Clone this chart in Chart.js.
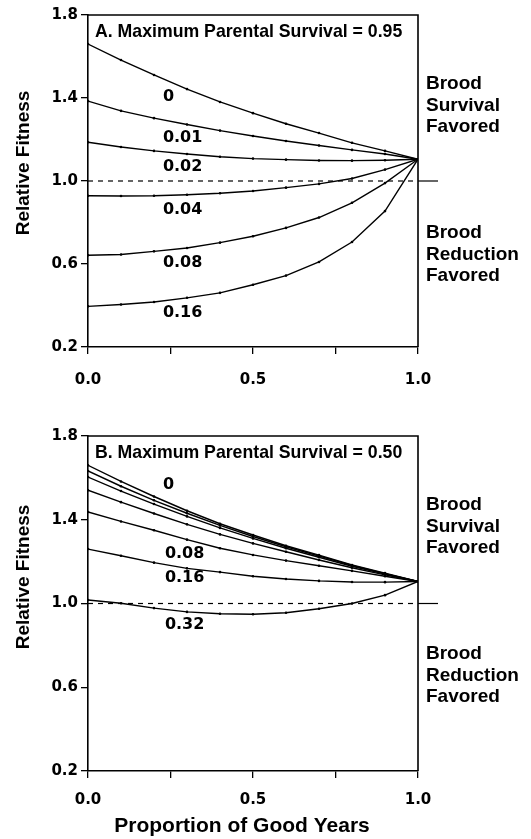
<!DOCTYPE html>
<html>
<head>
<meta charset="utf-8">
<script src="https://cdn.jsdelivr.net/npm/chart.js@4.4.1/dist/chart.umd.min.js"></script>
<style>
  html, body { margin: 0; padding: 0; background: #fff; }
  #wrap { position: relative; width: 531px; height: 839px; }
  canvas { position: absolute; left: 0; }
  #chartA { top: 0; }
  #chartB { top: 410px; }
</style>
</head>
<body>
<div id="wrap">
  <canvas id="chartA" width="531" height="410"></canvas>
  <canvas id="chartB" width="531" height="429"></canvas>
</div>
<script>
"use strict";

// x: proportion of good years
var goodYears = [0.0, 0.1, 0.2, 0.3, 0.4, 0.5, 0.6, 0.7, 0.8, 0.9, 1.0];
var yTicks = [0.2, 0.6, 1.0, 1.4, 1.8];
var xTickLabels = ['0.0', '0.5', '1.0'];

// Panel A - maximum parental survival 0.95
var costsA = ['0', '0.01', '0.02', '0.04', '0.08', '0.16'];
var fitA_0    = [1.660, 1.583, 1.511, 1.443, 1.381, 1.327, 1.276, 1.231, 1.184, 1.145, 1.105];
var fitA_001  = [1.385, 1.338, 1.303, 1.272, 1.243, 1.217, 1.193, 1.171, 1.150, 1.130, 1.105];
var fitA_002  = [1.187, 1.164, 1.145, 1.130, 1.117, 1.108, 1.103, 1.099, 1.098, 1.100, 1.105];
var fitA_004  = [0.929, 0.928, 0.929, 0.934, 0.941, 0.952, 0.968, 0.986, 1.012, 1.055, 1.105];
var fitA_008  = [0.642, 0.646, 0.661, 0.677, 0.703, 0.734, 0.774, 0.824, 0.895, 0.990, 1.105];
var fitA_016  = [0.396, 0.405, 0.417, 0.437, 0.461, 0.500, 0.544, 0.610, 0.706, 0.855, 1.105];

// Panel B - maximum parental survival 0.50
var costsB = ['0', '0.01', '0.02', '0.04', '0.08', '0.16', '0.32'];
var fitB_0    = [1.660, 1.583, 1.511, 1.443, 1.381, 1.327, 1.276, 1.231, 1.184, 1.145, 1.105];
var fitB_001  = [1.633, 1.560, 1.493, 1.431, 1.373, 1.320, 1.271, 1.227, 1.182, 1.143, 1.105];
var fitB_002  = [1.604, 1.537, 1.475, 1.416, 1.361, 1.311, 1.264, 1.221, 1.178, 1.141, 1.105];
var fitB_004  = [1.541, 1.484, 1.430, 1.378, 1.330, 1.287, 1.247, 1.208, 1.171, 1.137, 1.105];
var fitB_008  = [1.437, 1.392, 1.350, 1.305, 1.264, 1.232, 1.205, 1.180, 1.156, 1.130, 1.105];
var fitB_016  = [1.260, 1.228, 1.195, 1.168, 1.150, 1.130, 1.117, 1.108, 1.103, 1.102, 1.105];
var fitB_032  = [1.017, 1.001, 0.978, 0.960, 0.951, 0.949, 0.956, 0.975, 1.000, 1.040, 1.105];

var seriesA = [fitA_0, fitA_001, fitA_002, fitA_004, fitA_008, fitA_016];
var seriesB = [fitB_0, fitB_001, fitB_002, fitB_004, fitB_008, fitB_016, fitB_032];

var boldSans = '"Liberation Sans", Arial, sans-serif';
var tickFont = { family: '"DejaVu Sans", sans-serif', size: 15, weight: 'bold' };

function MakeDatasets(costs, series) {
	return costs.map(function (cost, i) {
		return {
			label: cost,
			data: goodYears.map(function (x, j) { return { x: x, y: series[i][j] }; }),
			borderColor: '#000',
			borderWidth: 1.4,
			pointRadius: 1.3,
			pointBackgroundColor: '#000',
			pointBorderWidth: 0,
			tension: 0,
			fill: false
		};
	});
}

// frame, reference line and all the annotation text
var panelDecor = {
	id: 'panelDecor',
	beforeDatasetsDraw: function (chart, args, opts) {
		var ctx = chart.ctx, area = chart.chartArea;
		var y1 = chart.scales.y.getPixelForValue(1.0);
		ctx.save();
		ctx.strokeStyle = '#000';
		ctx.lineWidth = 1.2;
		ctx.setLineDash([5, 5]);
		ctx.beginPath();
		ctx.moveTo(area.left, y1);
		ctx.lineTo(area.right, y1);
		ctx.stroke();
		ctx.setLineDash([]);
		ctx.beginPath();
		ctx.moveTo(area.right, y1);
		ctx.lineTo(area.right + 20, y1);
		ctx.stroke();
		ctx.lineWidth = 1.6;
		ctx.beginPath();
		ctx.moveTo(area.left, area.top);
		ctx.lineTo(area.right, area.top);
		ctx.lineTo(area.right, area.bottom);
		ctx.stroke();
		ctx.restore();
	},
	afterDatasetsDraw: function (chart, args, opts) {
		var ctx = chart.ctx, area = chart.chartArea;
		var sx = chart.scales.x, sy = chart.scales.y;
		ctx.save();
		ctx.fillStyle = '#000';

		// panel title
		ctx.font = 'bold 17.7px ' + boldSans;
		ctx.textAlign = 'left';
		ctx.textBaseline = 'alphabetic';
		ctx.fillText(opts.title, area.left + 7, area.top + 22);

		// curve labels
		ctx.font = 'bold 16px "DejaVu Sans", sans-serif';
		ctx.textBaseline = 'middle';
		opts.curveLabels.forEach(function (l) {
			ctx.fillText(l.text, sx.getPixelForValue(l.x), sy.getPixelForValue(l.y));
		});

		// right side notes
		ctx.font = 'bold 19px ' + boldSans;
		ctx.textBaseline = 'alphabetic';
		var lines1 = ['Brood', 'Survival', 'Favored'];
		var lines2 = ['Brood', 'Reduction', 'Favored'];
		lines1.forEach(function (t, i) { ctx.fillText(t, area.right + 8, area.top + 74 + i * 21.5); });
		lines2.forEach(function (t, i) { ctx.fillText(t, area.right + 8, area.top + 223 + i * 21.5); });

		// y axis title
		ctx.save();
		ctx.translate(24, area.top + opts.yTitleOffset);
		ctx.rotate(-Math.PI / 2);
		ctx.textAlign = 'center';
		ctx.textBaseline = 'middle';
		ctx.fillText('Relative Fitness', 0, 0);
		ctx.restore();

		// x axis title
		if (opts.xTitle) {
			ctx.font = 'bold 21px ' + boldSans;
			ctx.textAlign = 'center';
			ctx.textBaseline = 'alphabetic';
			ctx.fillText(opts.xTitle, 242, area.bottom + 61);
		}
		ctx.restore();
	}
};

function MakeOptions(pad, xHeight, xPad, decor) {
	return {
		responsive: false,
		animation: false,
		layout: { padding: { top: pad, right: 113, left: 0, bottom: 0 } },
		plugins: {
			legend: { display: false },
			tooltip: { enabled: false },
			panelDecor: decor
		},
		scales: {
			x: {
				type: 'linear',
				min: 0,
				max: 1,
				afterFit: function (scale) { scale.height = xHeight; },
				border: { display: true, color: '#000', width: 1.6 },
				grid: { drawOnChartArea: false, drawTicks: true, tickLength: 7, color: '#000', lineWidth: 1.3 },
				ticks: {
					stepSize: 0.25,
					autoSkip: false,
					maxRotation: 0,
					padding: xPad,
					color: '#000',
					font: tickFont,
					callback: function (v) {
						var s = Number(v).toFixed(1);
						return (v * 2) % 1 === 0 && xTickLabels.indexOf(s) >= 0 ? s : '';
					}
				}
			},
			y: {
				min: 0.2,
				max: 1.8,
				afterFit: function (scale) { scale.width = 88; },
				afterBuildTicks: function (scale) {
					scale.ticks = yTicks.map(function (v) { return { value: v }; });
				},
				border: { display: true, color: '#000', width: 1.6 },
				grid: { drawOnChartArea: false, drawTicks: true, tickLength: 7, color: '#000', lineWidth: 1.3 },
				ticks: {
					padding: 3,
					color: '#000',
					font: tickFont,
					callback: function (v) { return Number(v).toFixed(1); }
				}
			}
		}
	};
}

var chartA = new Chart(document.getElementById('chartA'), {
	type: 'line',
	data: { datasets: MakeDatasets(costsA, seriesA) },
	plugins: [panelDecor],
	options: MakeOptions(15, 63, 17, {
		title: 'A. Maximum Parental Survival = 0.95',
		yTitleOffset: 148,
		curveLabels: [
			{ text: '0', x: 0.227, y: 1.404 },
			{ text: '0.01', x: 0.227, y: 1.207 },
			{ text: '0.02', x: 0.227, y: 1.067 },
			{ text: '0.04', x: 0.227, y: 0.859 },
			{ text: '0.08', x: 0.227, y: 0.604 },
			{ text: '0.16', x: 0.227, y: 0.367 }
		]
	})
});

var chartB = new Chart(document.getElementById('chartB'), {
	type: 'line',
	data: { datasets: MakeDatasets(costsB, seriesB) },
	plugins: [panelDecor],
	options: MakeOptions(26, 68, 13, {
		title: 'B. Maximum Parental Survival = 0.50',
		yTitleOffset: 141,
		xTitle: 'Proportion of Good Years',
		curveLabels: [
			{ text: '0', x: 0.227, y: 1.566 },
			{ text: '0.08', x: 0.233, y: 1.236 },
			{ text: '0.16', x: 0.233, y: 1.122 },
			{ text: '0.32', x: 0.233, y: 0.897 }
		]
	})
});
</script>
</body>
</html>
